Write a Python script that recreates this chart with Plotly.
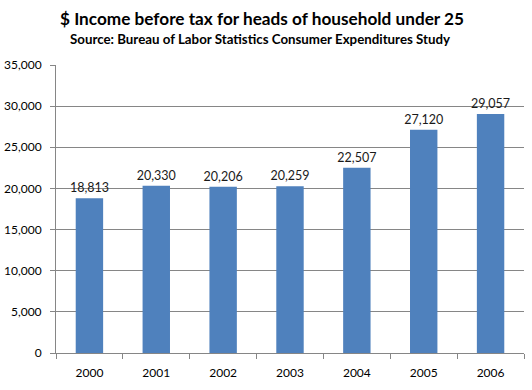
import plotly.graph_objects as go

years = ["2000", "2001", "2002", "2003", "2004", "2005", "2006"]
income = [18813, 20330, 20206, 20259, 22507, 27120, 29057]
y_ticks = [0, 5000, 10000, 15000, 20000, 25000, 30000, 35000]
y_tick_labels = ["0", "5,000", "10,000", "15,000", "20,000", "25,000", "30,000", "35,000"]

font_family = "Lato, Noto Sans, sans-serif"

fig = go.Figure()
fig.add_trace(go.Bar(
    x=years, y=income,
    marker=dict(color="#4F81BD", line=dict(width=0)),
    text=[f"{v:,}" for v in income],
    textposition="outside",
    constraintext="none",
    textfont=dict(family=font_family, size=12.5, color="#1a1a1a"),
    cliponaxis=False,
    hoverinfo="skip",
))

fig.update_layout(
    width=532, height=390,
    margin=dict(l=56, r=8, t=65, b=37, autoexpand=False),
    paper_bgcolor="white", plot_bgcolor="white",
    bargap=0.59,
    showlegend=False,
    font=dict(family=font_family, size=12, color="#000000"),
    annotations=[
        dict(text="<b>$ Income before tax for heads of household under 25</b>",
             xref="paper", yref="paper", x=0.44, y=1, xanchor="center", yanchor="bottom",
             yshift=34, showarrow=False,
             font=dict(family=font_family, size=17.2, color="#000000")),
        dict(text="<b>Source: Bureau of Labor Statistics Consumer Expenditures Study</b>",
             xref="paper", yref="paper", x=0.436, y=1, xanchor="center", yanchor="bottom",
             yshift=16, showarrow=False,
             font=dict(family=font_family, size=13.3, color="#000000")),
    ],
)

fig.update_xaxes(
    type="category", automargin=False,
    showline=True, linecolor="#868686", linewidth=1,
    ticks="outside", ticklen=5, tickcolor="#868686",
    tickson="boundaries",
    ticklabelstandoff=9,
    showgrid=False,
    tickfont=dict(family=font_family, size=12, color="#000000"),
)
fig.update_yaxes(
    range=[0, 35000], automargin=False,
    tickvals=y_ticks, ticktext=y_tick_labels,
    showline=True, linecolor="#868686", linewidth=1,
    ticks="outside", ticklen=5, tickcolor="#868686",
    ticklabelstandoff=6,
    showgrid=True, gridcolor="#868686", gridwidth=1,
    zeroline=False,
    tickfont=dict(family=font_family, size=12, color="#000000"),
)

fig.write_html("out.html", config={"displayModeBar": False},
               post_script="document.body.style.margin='0';document.body.style.overflow='hidden';")
